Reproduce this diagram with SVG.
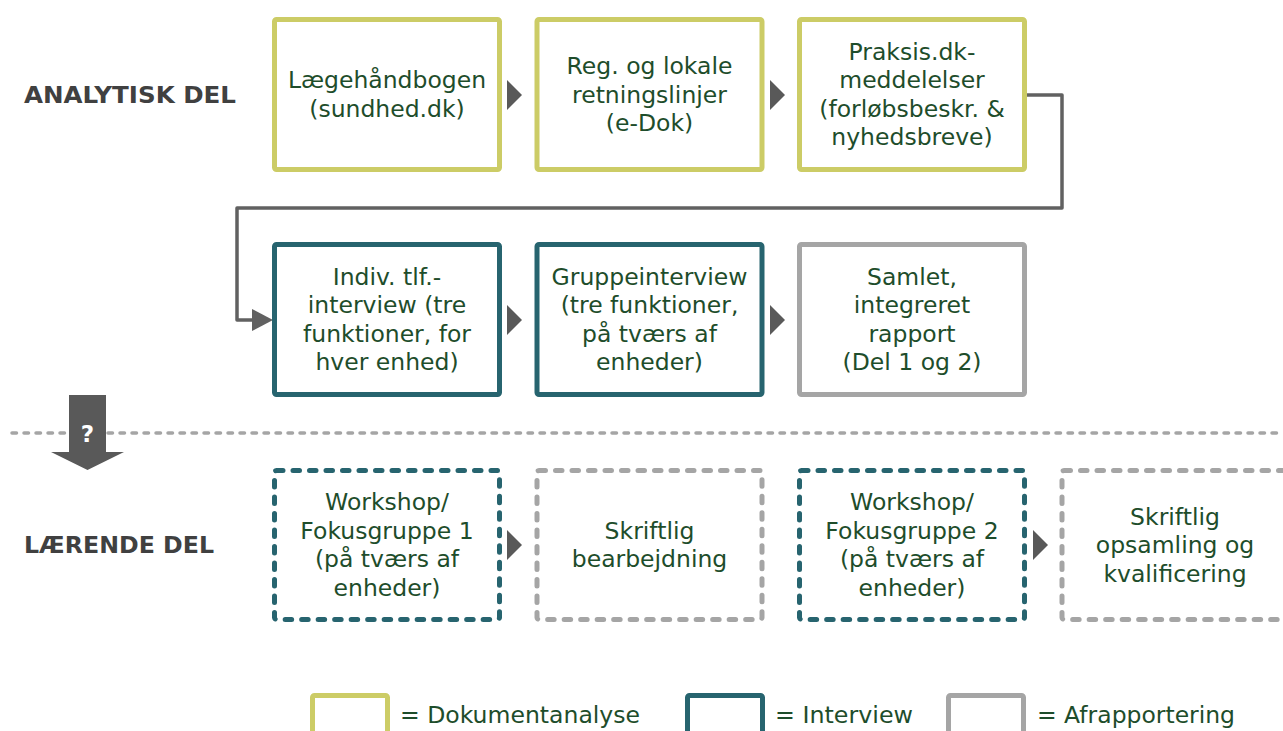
<svg xmlns="http://www.w3.org/2000/svg" width="1283" height="731" viewBox="0 0 1283 731">
<style>
.box{fill:#ffffff;stroke-width:5}
.doc{stroke:#CCCC66}
.int{stroke:#27646F}
.rap{stroke:#A5A5A5}
.dash{stroke-dasharray:6.5 10;stroke-linecap:round}
.t{font-family:"DejaVu Sans","Liberation Sans",sans-serif;font-size:23.5px;fill:#1E4D2B;text-anchor:middle}
.lab{font-family:"DejaVu Sans","Liberation Sans",sans-serif;font-size:23px;font-weight:bold;fill:#404040}
.leg{font-family:"DejaVu Sans","Liberation Sans",sans-serif;font-size:23px;fill:#1E4D2B}
.tri{fill:#595959}
</style>
<rect width="1283" height="731" fill="#ffffff"/>

<text class="lab" x="24" y="103" textLength="212" lengthAdjust="spacingAndGlyphs">ANALYTISK DEL</text>
<text class="lab" x="24" y="553" textLength="190" lengthAdjust="spacingAndGlyphs">LÆRENDE DEL</text>

<!-- separator -->
<line x1="12" y1="433" x2="1283" y2="433" stroke="#A5A5A5" stroke-width="3.5" stroke-dasharray="4.5 7.5" stroke-linecap="round"/>

<!-- down arrow -->
<g id="down-arrow">
<polygon points="69,395 106,395 106,452 124,452 87.5,470 51,452 69,452" fill="#595959"/>
<text x="87.5" y="442" font-family="DejaVu Sans,sans-serif" font-size="23" font-weight="bold" fill="#ffffff" text-anchor="middle">?</text>
</g>

<g id="connectors">
<path d="M1022 95 H1062 V208 H237 V320 H256" fill="none" stroke="#616161" stroke-width="3.5" stroke-linejoin="round"/>
<polygon points="252,309 273,320 252,331" fill="#616161"/>
<polygon class="tri" points="507,80 522,95 507,110"/>
<polygon class="tri" points="770,80 785,95 770,110"/>
<polygon class="tri" points="507,305 522,320 507,335"/>
<polygon class="tri" points="770,305 785,320 770,335"/>
<polygon class="tri" points="507,530 522,545 507,560"/>
<polygon class="tri" points="1033,530 1048,545 1033,560"/>
</g>

<g id="n1"><rect class="box doc" x="274.5" y="19.5" width="225" height="150" rx="2"/>
<text class="t" x="387" y="88">Lægehåndbogen</text><text class="t" x="387" y="117">(sundhed.dk)</text></g>
<g id="n2"><rect class="box doc" x="537" y="19.5" width="225" height="150" rx="2"/>
<text class="t" x="649.5" y="74">Reg. og lokale</text><text class="t" x="649.5" y="102.5">retningslinjer</text><text class="t" x="649.5" y="131">(e-Dok)</text></g>
<g id="n3"><rect class="box doc" x="799.5" y="19.5" width="225" height="150" rx="2"/>
<text class="t" x="912" y="60">Praksis.dk-</text><text class="t" x="912" y="88">meddelelser</text><text class="t" x="912" y="117">(forløbsbeskr. &amp;</text><text class="t" x="912" y="145">nyhedsbreve)</text></g>

<g id="n4"><rect class="box int" x="274.5" y="244.5" width="225" height="150" rx="2"/>
<text class="t" x="387" y="285">Indiv. tlf.-</text><text class="t" x="387" y="313">interview (tre</text><text class="t" x="387" y="342">funktioner, for</text><text class="t" x="387" y="370">hver enhed)</text></g>
<g id="n5"><rect class="box int" x="537" y="244.5" width="225" height="150" rx="2"/>
<text class="t" x="649.5" y="285">Gruppeinterview</text><text class="t" x="649.5" y="313">(tre funktioner,</text><text class="t" x="649.5" y="342">på tværs af</text><text class="t" x="649.5" y="370">enheder)</text></g>
<g id="n6"><rect class="box rap" x="799.5" y="244.5" width="225" height="150" rx="2"/>
<text class="t" x="912" y="285">Samlet,</text><text class="t" x="912" y="313">integreret</text><text class="t" x="912" y="342">rapport</text><text class="t" x="912" y="370">(Del 1 og 2)</text></g>

<g id="n7"><rect class="box int dash" x="274.5" y="470.5" width="225" height="149" rx="2"/>
<text class="t" x="387" y="510">Workshop/</text><text class="t" x="387" y="539">Fokusgruppe 1</text><text class="t" x="387" y="567">(på tværs af</text><text class="t" x="387" y="596">enheder)</text></g>
<g id="n8"><rect class="box rap dash" x="537" y="470.5" width="225" height="149" rx="2"/>
<text class="t" x="649.5" y="539">Skriftlig</text><text class="t" x="649.5" y="567">bearbejdning</text></g>
<g id="n9"><rect class="box int dash" x="799.5" y="470.5" width="225" height="149" rx="2"/>
<text class="t" x="912" y="510">Workshop/</text><text class="t" x="912" y="539">Fokusgruppe 2</text><text class="t" x="912" y="567">(på tværs af</text><text class="t" x="912" y="596">enheder)</text></g>
<g id="n10"><rect class="box rap dash" x="1062" y="470.5" width="225" height="149" rx="2"/>
<text class="t" x="1175" y="524.5">Skriftlig</text><text class="t" x="1175" y="553">opsamling og</text><text class="t" x="1175" y="581.5">kvalificering</text></g>

<g id="legend">
<rect class="box doc" x="312.5" y="695.5" width="75" height="50" rx="2"/>
<text class="leg" x="400" y="723" textLength="240" lengthAdjust="spacingAndGlyphs">= Dokumentanalyse</text>
<rect class="box int" x="687.5" y="695.5" width="75" height="50" rx="2"/>
<text class="leg" x="775" y="723" textLength="138" lengthAdjust="spacingAndGlyphs">= Interview</text>
<rect class="box rap" x="948.5" y="695.5" width="75" height="50" rx="2"/>
<text class="leg" x="1037" y="723" textLength="198" lengthAdjust="spacingAndGlyphs">= Afrapportering</text>
</g>
</svg>
